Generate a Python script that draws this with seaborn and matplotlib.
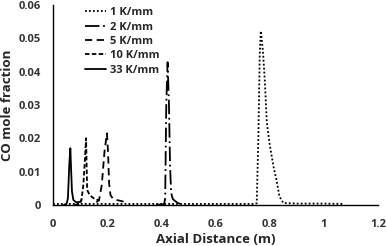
import numpy as np
import pandas as pd
import matplotlib
matplotlib.use('Agg')
import matplotlib.pyplot as plt
import seaborn as sns

# peak profiles (x in m, CO mole fraction)
x_1 = [0.0, 0.2, 0.4, 0.6, 0.74, 0.752, 0.758, 0.763, 0.767, 0.775, 0.782, 0.789, 0.80, 0.815, 0.825, 0.836, 0.85, 0.9, 1.0, 1.07]
y_1 = [0.0003, 0.0003, 0.0003, 0.0003, 0.0003, 0.0005, 0.02, 0.045, 0.0522, 0.046, 0.037, 0.025, 0.018, 0.011, 0.0075, 0.0025, 0.0006, 0.0004, 0.0004, 0.0003]

x_2 = [0.38, 0.41, 0.414, 0.418, 0.423, 0.428, 0.432, 0.436, 0.442, 0.45, 0.46, 0.473]
y_2 = [0.0, 0.0002, 0.002, 0.03, 0.0428, 0.03, 0.012, 0.0036, 0.0018, 0.0012, 0.0006, 0.0002]

x_5 = [0.16, 0.17, 0.18, 0.19, 0.199, 0.203, 0.207, 0.212, 0.22, 0.233, 0.25, 0.27]
y_5 = [0.0008, 0.0015, 0.006, 0.016, 0.0215, 0.016, 0.0065, 0.003, 0.002, 0.0015, 0.0012, 0.0008]

x_10 = [0.08, 0.1, 0.105, 0.112, 0.118, 0.122, 0.124, 0.126, 0.135, 0.15, 0.165, 0.172]
y_10 = [0.0, 0.0003, 0.0015, 0.006, 0.014, 0.020, 0.012, 0.0045, 0.003, 0.002, 0.0015, 0.0013]

x_33 = [0.04, 0.05, 0.055, 0.06, 0.064, 0.067, 0.07, 0.075, 0.085, 0.1, 0.105]
y_33 = [0.0, 0.0003, 0.002, 0.012, 0.017, 0.010, 0.004, 0.0015, 0.0008, 0.0009, 0.0015]

labels = ['1 K/mm', '2 K/mm', '5 K/mm', '10 K/mm', '33 K/mm']
styles = [(0, (1, 1.2)), (0, (8, 2, 1, 2)), (0, (4, 2.5)), (0, (2.5, 1.3)), '-']

frames = []
for lab, xs, ys in zip(labels, [x_1, x_2, x_5, x_10, x_33], [y_1, y_2, y_5, y_10, y_33]):
    frames.append(pd.DataFrame({'x': xs, 'y': ys, 'rate': lab}))
df = pd.concat(frames, ignore_index=True)

sns.set_style('white')
plt.rcParams['font.family'] = ['Open Sans', 'DejaVu Sans']
plt.rcParams['font.weight'] = 'bold'

fig = plt.figure(figsize=(3.87, 2.46), dpi=100)
ax = fig.add_axes([0.137, 0.167, 0.84, 0.813])

for lab, ls in zip(labels, styles):
    sub = df[df['rate'] == lab]
    sns.lineplot(data=sub, x='x', y='y', ax=ax, color='black', linewidth=1.3,
                 linestyle=ls, label=lab, estimator=None, sort=False)

ax.set_xlim(0, 1.2)
ax.set_ylim(0, 0.06)
ax.set_xticks([0, 0.2, 0.4, 0.6, 0.8, 1.0, 1.2])
ax.set_xticklabels(['0', '0.2', '0.4', '0.6', '0.8', '1', '1.2'])
ax.set_yticks([0, 0.01, 0.02, 0.03, 0.04, 0.05, 0.06])
ax.set_yticklabels(['0', '0.01', '0.02', '0.03', '0.04', '0.05', '0.06'])
ax.tick_params(axis='both', length=0, labelsize=8, labelcolor='#333333')
ax.tick_params(axis='x', pad=10)
ax.tick_params(axis='y', pad=9)
for lbl in ax.get_xticklabels() + ax.get_yticklabels():
    lbl.set_fontweight('bold')

ax.set_xlabel('Axial Distance (m)', fontsize=9.5, fontweight='bold', labelpad=2)
ax.set_ylabel('CO mole fraction', fontsize=9.5, fontweight='bold', labelpad=3)

sns.despine(ax=ax)
for s in ['left', 'bottom']:
    ax.spines[s].set_color('black')
    ax.spines[s].set_linewidth(1.0)

leg = ax.legend(loc='upper left', bbox_to_anchor=(0.085, 1.01), frameon=False,
                fontsize=8, handlelength=1.9, handletextpad=0.3,
                labelspacing=0.3, borderaxespad=0.0)
for t in leg.get_texts():
    t.set_fontweight('bold')
    t.set_color('#262626')

fig.savefig('out.png', dpi=100)
